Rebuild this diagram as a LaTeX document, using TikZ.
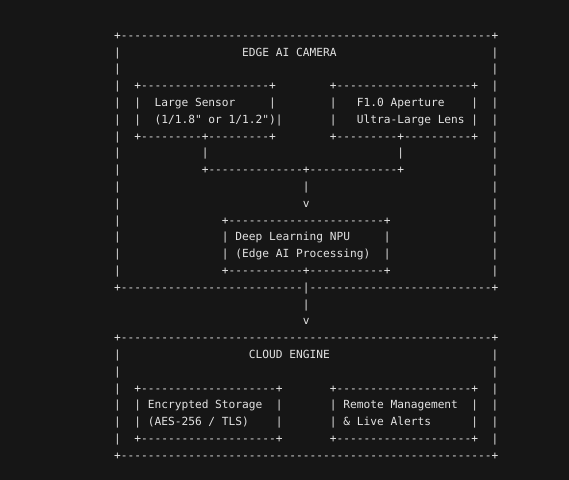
\documentclass[tikz,border=0pt]{standalone}
\usepackage{fontspec}
\setmonofont{DejaVu Sans Mono}
\usepackage{xcolor}
\usepackage{tikz}
\definecolor{bgdark}{HTML}{161616}
\definecolor{asciigray}{HTML}{E2E2E2}
\ExplSyntaxOn
\newcommand\dashrun[1]{\prg_replicate:nn{#1}{-}}
\ExplSyntaxOff
\newcommand\gap[1]{\hspace*{#1\fontcharwd\font`x}}
\tikzset{row/.style={anchor=base west, inner sep=0pt, text=asciigray,
                     font=\ttfamily\fontsize{11.2}{16.8}\selectfont}}
\begin{document}
\begin{tikzpicture}[x=6.75pt,y=-16.8pt]
   \path[use as bounding box, fill=bgdark] (-16.874,-2.339) rectangle (67.422,26.232);

   \node[row] (E0)  at (0,0)  {+\dashrun{55}+};
   \node[row] (E1)  at (0,1)  {|\gap{18}EDGE AI CAMERA\gap{23}|};
   \node[row] (E2)  at (0,2)  {|\gap{55}|};
   \node[row] (E3)  at (0,3)  {|\gap{2}+\dashrun{19}+\gap{8}+\dashrun{20}+\gap{2}|};
   \node[row] (E4)  at (0,4)  {|\gap{2}|\gap{2}Large Sensor\gap{5}|\gap{8}|\gap{3}F1.0 Aperture\gap{4}|\gap{2}|};
   \node[row] (E5)  at (0,5)  {|\gap{2}|\gap{2}(1/1.8" or 1/1.2")|\gap{7}|\gap{3}Ultra-Large Lens\gap{1}|\gap{2}|};
   \node[row] (E6)  at (0,6)  {|\gap{2}+\dashrun{9}+\dashrun{9}+\gap{8}+\dashrun{9}+\dashrun{10}+\gap{2}|};
   \node[row] (E7)  at (0,7)  {|\gap{12}|\gap{28}|\gap{13}|};
   \node[row] (E8)  at (0,8)  {|\gap{12}+\dashrun{14}+\dashrun{13}+\gap{13}|};
   \node[row] (E9)  at (0,9)  {|\gap{27}|\gap{27}|};
   \node[row] (E10) at (0,10) {|\gap{27}v\gap{27}|};
   \node[row] (E11) at (0,11) {|\gap{15}+\dashrun{23}+\gap{15}|};
   \node[row] (E12) at (0,12) {|\gap{15}|\gap{1}Deep Learning NPU\gap{5}|\gap{15}|};
   \node[row] (E13) at (0,13) {|\gap{15}|\gap{1}(Edge AI Processing)\gap{2}|\gap{15}|};
   \node[row] (E14) at (0,14) {|\gap{15}+\dashrun{11}+\dashrun{11}+\gap{15}|};
   \node[row] (E15) at (0,15) {+\dashrun{27}|\dashrun{27}+};
   \node[row] (E16) at (0,16) {\gap{28}|};
   \node[row] (E17) at (0,17) {\gap{28}v};

   \node[row] (C0)  at (0,18) {+\dashrun{55}+};
   \node[row] (C1)  at (0,19) {|\gap{19}CLOUD ENGINE\gap{24}|};
   \node[row] (C2)  at (0,20) {|\gap{55}|};
   \node[row] (C3)  at (0,21) {|\gap{2}+\dashrun{20}+\gap{7}+\dashrun{20}+\gap{2}|};
   \node[row] (C4)  at (0,22) {|\gap{2}|\gap{1}Encrypted Storage\gap{2}|\gap{7}|\gap{1}Remote Management\gap{2}|\gap{2}|};
   \node[row] (C5)  at (0,23) {|\gap{2}|\gap{1}(AES-256 / TLS)\gap{4}|\gap{7}|\gap{1}\& Live Alerts\gap{6}|\gap{2}|};
   \node[row] (C6)  at (0,24) {|\gap{2}+\dashrun{20}+\gap{7}+\dashrun{20}+\gap{2}|};
   \node[row] (C7)  at (0,25) {+\dashrun{55}+};
\end{tikzpicture}
\end{document}
